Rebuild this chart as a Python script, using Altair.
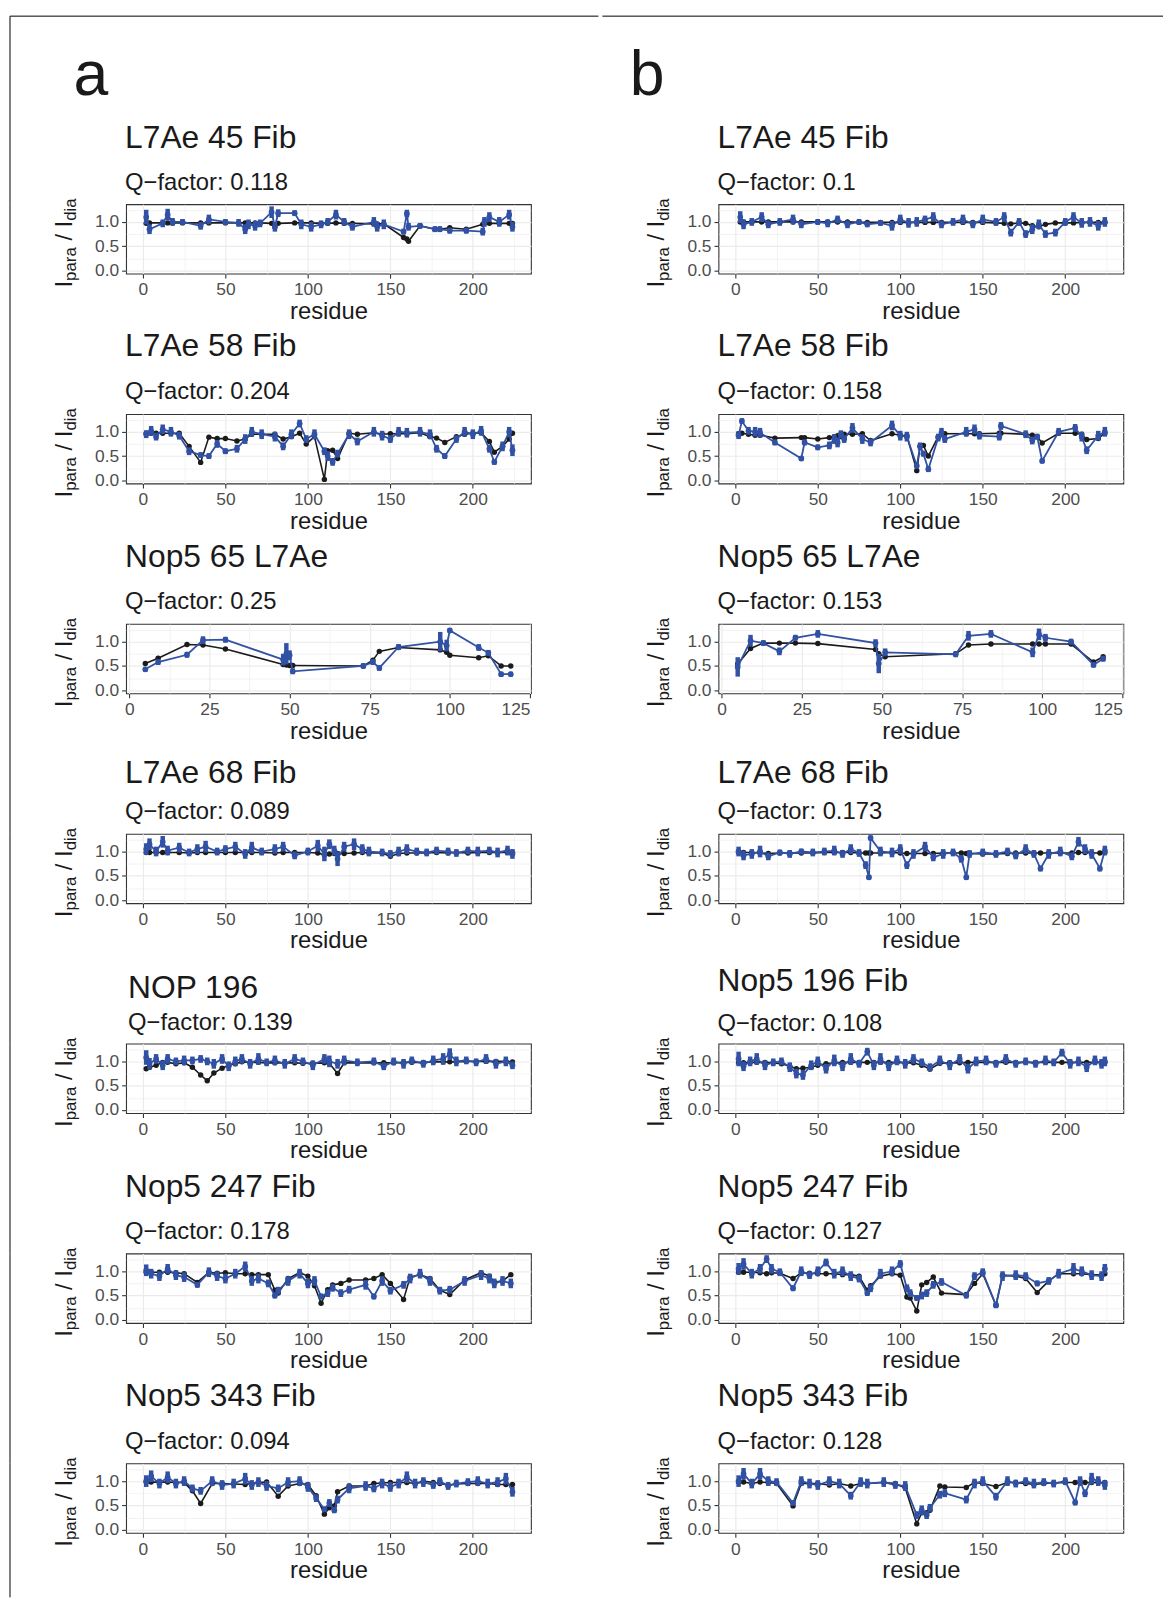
import altair as alt
import pandas as pd

BLUE = "#3151A4"
BLACK = "#1B1B1B"
FONT = "Liberation Sans"

# ---------------- data ----------------
# column a
a1_res = [2, 4, 12, 15, 18, 24, 35, 40, 50, 58, 62, 64, 68, 71, 78, 80, 82, 92, 96, 102, 108, 112, 117, 122, 127, 140, 142, 146, 158, 160, 161, 168, 177, 180, 186, 196, 206, 207, 210, 216, 222, 224]
a1_calc = [0.97, 0.98, 0.98, 0.98, 0.98, 0.98, 0.98, 0.98, 0.98, 0.98, 0.98, 0.98, 0.98, 0.98, 0.97, 0.90, 0.97, 0.98, 0.98, 0.98, 0.97, 0.97, 0.98, 0.97, 0.97, 0.96, 0.96, 0.96, 0.68, 0.65, 0.60, 0.92, 0.85, 0.85, 0.88, 0.85, 0.95, 0.97, 0.97, 0.97, 0.97, 0.97]
a1_exp = [1.10, 0.85, 0.97, 1.15, 1.00, 1.00, 0.92, 1.05, 1.00, 0.98, 0.85, 0.95, 0.92, 0.97, 1.20, 0.90, 1.18, 1.18, 0.95, 0.90, 0.95, 1.00, 1.15, 1.00, 0.90, 1.00, 0.90, 0.95, 0.80, 1.17, 0.90, 0.92, 0.85, 0.85, 0.82, 0.82, 0.80, 1.00, 1.10, 1.00, 1.15, 0.90]
a1_err = [0.15, 0.10, 0.08, 0.12, 0.08, 0.06, 0.08, 0.10, 0.06, 0.08, 0.10, 0.10, 0.10, 0.08, 0.12, 0.10, 0.08, 0.06, 0.10, 0.10, 0.08, 0.08, 0.10, 0.08, 0.08, 0.10, 0.10, 0.10, 0.06, 0.08, 0.08, 0.06, 0.06, 0.06, 0.06, 0.06, 0.08, 0.10, 0.10, 0.10, 0.10, 0.10]

a2_res = [2, 5, 8, 12, 17, 22, 28, 35, 40, 45, 50, 57, 62, 66, 72, 80, 85, 90, 95, 99, 104, 110, 112, 115, 118, 125, 130, 140, 145, 150, 155, 160, 168, 174, 178, 183, 190, 195, 200, 205, 210, 213, 218, 222, 224]
a2_calc = [0.97, 0.97, 0.97, 0.97, 0.97, 0.97, 0.70, 0.37, 0.89, 0.86, 0.86, 0.81, 0.85, 0.95, 0.95, 0.95, 0.85, 0.90, 0.97, 0.75, 0.90, 0.02, 0.61, 0.62, 0.45, 0.97, 0.95, 0.98, 0.95, 0.96, 0.96, 0.96, 0.98, 0.90, 0.87, 0.78, 0.90, 0.95, 0.97, 0.98, 0.80, 0.58, 0.70, 0.85, 0.97]
a2_exp = [0.95, 1.02, 0.90, 1.05, 1.00, 0.92, 0.60, 0.52, 0.50, 0.75, 0.60, 0.65, 0.85, 1.00, 0.95, 0.90, 0.70, 0.95, 1.17, 0.85, 0.95, 0.60, 0.50, 0.38, 0.55, 0.95, 0.80, 1.00, 0.92, 0.85, 1.00, 0.98, 1.00, 0.95, 0.65, 0.50, 0.85, 1.00, 0.95, 1.02, 0.65, 0.38, 0.70, 1.00, 0.62]
a2_err = [0.08, 0.10, 0.08, 0.10, 0.10, 0.08, 0.08, 0.06, 0.06, 0.08, 0.06, 0.08, 0.10, 0.10, 0.10, 0.10, 0.08, 0.10, 0.08, 0.08, 0.10, 0.08, 0.10, 0.08, 0.08, 0.10, 0.08, 0.10, 0.10, 0.08, 0.10, 0.10, 0.10, 0.10, 0.08, 0.06, 0.08, 0.10, 0.10, 0.10, 0.08, 0.06, 0.10, 0.10, 0.12]

a3_res = [5, 9, 18, 23, 30, 48, 49, 50, 51, 73, 76, 78, 84, 97, 99, 100, 109, 112, 116, 119]
a3_calc = [0.55, 0.66, 0.94, 0.93, 0.85, 0.53, 0.52, 0.51, 0.51, 0.50, 0.62, 0.80, 0.88, 0.83, 0.78, 0.72, 0.67, 0.71, 0.50, 0.50]
a3_exp = [0.43, 0.58, 0.73, 1.03, 1.04, 0.63, 0.75, 0.72, 0.39, 0.50, 0.58, 0.46, 0.89, 1.00, 0.92, 1.23, 0.88, 0.77, 0.33, 0.33]
a3_err = [0.05, 0.06, 0.06, 0.08, 0.06, 0.12, 0.22, 0.10, 0.06, 0.05, 0.06, 0.06, 0.06, 0.20, 0.12, 0.05, 0.07, 0.06, 0.05, 0.05]

a4_res = [2, 4, 8, 12, 15, 22, 28, 33, 38, 45, 50, 56, 62, 66, 72, 80, 85, 92, 100, 106, 110, 113, 116, 118, 122, 128, 133, 137, 145, 150, 155, 160, 166, 172, 178, 185, 190, 197, 203, 210, 215, 221, 224]
a4_calc = [0.98, 0.98, 0.98, 0.98, 0.98, 0.98, 0.97, 0.98, 0.98, 0.98, 0.98, 0.98, 0.98, 0.98, 0.98, 0.97, 0.98, 0.98, 0.98, 0.97, 0.93, 0.95, 0.96, 0.96, 0.96, 0.97, 0.98, 0.97, 0.97, 0.90, 0.96, 0.97, 0.97, 0.97, 0.98, 0.97, 0.98, 0.97, 0.98, 0.98, 0.98, 0.98, 0.98]
a4_exp = [1.05, 1.15, 1.00, 1.20, 1.02, 1.08, 0.98, 1.05, 1.10, 1.00, 1.05, 1.10, 0.95, 1.08, 1.00, 1.05, 1.10, 0.92, 1.00, 1.12, 0.95, 1.15, 1.02, 0.85, 1.10, 1.15, 1.05, 1.00, 0.98, 0.95, 1.00, 1.05, 1.00, 0.98, 1.02, 1.00, 0.97, 1.02, 1.00, 1.02, 0.98, 1.02, 0.95]
a4_err = [0.12, 0.12, 0.10, 0.12, 0.10, 0.10, 0.08, 0.10, 0.12, 0.08, 0.08, 0.10, 0.10, 0.12, 0.08, 0.10, 0.10, 0.08, 0.08, 0.12, 0.15, 0.10, 0.10, 0.15, 0.10, 0.12, 0.10, 0.10, 0.08, 0.08, 0.10, 0.10, 0.08, 0.08, 0.08, 0.08, 0.08, 0.08, 0.10, 0.08, 0.10, 0.10, 0.10]

a5_res = [2, 4, 8, 12, 15, 20, 25, 30, 35, 39, 43, 48, 52, 56, 60, 65, 70, 75, 80, 86, 92, 97, 103, 110, 113, 118, 122, 130, 140, 146, 152, 158, 163, 170, 176, 182, 186, 190, 196, 202, 208, 214, 220, 224]
a5_calc = [0.85, 0.88, 0.92, 0.98, 0.98, 0.95, 0.97, 0.88, 0.72, 0.60, 0.76, 0.86, 0.92, 0.95, 0.99, 0.98, 0.98, 0.97, 0.97, 0.97, 0.97, 0.96, 0.96, 0.97, 0.96, 0.75, 0.97, 0.97, 0.97, 0.97, 0.97, 0.98, 0.98, 0.98, 0.99, 0.99, 0.99, 0.99, 1.00, 1.00, 1.00, 1.00, 1.00, 0.99]
a5_exp = [1.08, 0.95, 1.05, 0.92, 1.05, 1.00, 1.02, 1.02, 1.05, 1.00, 0.95, 1.05, 0.90, 1.00, 1.05, 0.95, 1.05, 0.98, 1.02, 0.95, 1.05, 1.00, 0.92, 1.05, 1.00, 0.95, 1.02, 0.98, 1.00, 0.90, 1.00, 0.95, 1.02, 0.95, 1.02, 1.05, 1.15, 1.00, 1.02, 0.98, 1.05, 0.95, 1.00, 0.92]
a5_err = [0.15, 0.12, 0.10, 0.10, 0.10, 0.08, 0.10, 0.08, 0.08, 0.08, 0.10, 0.10, 0.10, 0.10, 0.10, 0.10, 0.12, 0.08, 0.10, 0.10, 0.10, 0.08, 0.10, 0.10, 0.12, 0.10, 0.10, 0.08, 0.08, 0.08, 0.08, 0.10, 0.08, 0.08, 0.10, 0.12, 0.12, 0.10, 0.08, 0.08, 0.10, 0.10, 0.10, 0.08]

a6_res = [2, 5, 10, 15, 20, 25, 33, 40, 45, 50, 56, 62, 66, 70, 76, 80, 82, 88, 95, 100, 104, 108, 112, 115, 120, 125, 135, 140, 145, 150, 158, 162, 168, 174, 180, 186, 195, 205, 210, 213, 218, 223]
a6_calc = [0.98, 0.98, 0.98, 0.98, 0.97, 0.95, 0.77, 0.98, 0.96, 0.97, 0.95, 0.95, 0.93, 0.93, 0.93, 0.61, 0.55, 0.85, 0.97, 0.90, 0.70, 0.34, 0.62, 0.72, 0.75, 0.82, 0.82, 0.85, 0.93, 0.75, 0.42, 0.88, 0.93, 0.85, 0.61, 0.52, 0.82, 0.97, 0.90, 0.78, 0.80, 0.93]
a6_exp = [1.02, 0.95, 0.90, 1.05, 0.92, 0.88, 0.72, 0.98, 0.90, 0.85, 0.95, 1.10, 0.80, 0.85, 0.75, 0.50, 0.60, 0.80, 0.95, 0.75, 0.80, 0.48, 0.55, 0.66, 0.55, 0.62, 0.72, 0.48, 0.80, 0.60, 0.72, 0.85, 0.95, 0.80, 0.60, 0.62, 0.80, 0.92, 0.85, 0.75, 0.80, 0.75]
a6_err = [0.12, 0.10, 0.10, 0.10, 0.10, 0.10, 0.06, 0.10, 0.10, 0.10, 0.10, 0.10, 0.10, 0.10, 0.08, 0.06, 0.08, 0.10, 0.10, 0.10, 0.10, 0.06, 0.08, 0.08, 0.08, 0.08, 0.10, 0.06, 0.10, 0.08, 0.08, 0.10, 0.10, 0.10, 0.08, 0.08, 0.10, 0.10, 0.10, 0.10, 0.10, 0.10]

a7_res = [2, 5, 10, 15, 20, 25, 30, 35, 42, 48, 55, 62, 66, 70, 75, 82, 88, 95, 100, 105, 110, 113, 116, 118, 125, 135, 140, 145, 150, 155, 160, 165, 170, 176, 180, 185, 190, 197, 203, 209, 215, 220, 224]
a7_calc = [0.98, 0.98, 0.98, 0.98, 0.97, 0.97, 0.80, 0.54, 0.95, 0.95, 0.94, 0.93, 0.95, 0.97, 0.98, 0.69, 0.90, 0.95, 0.93, 0.70, 0.32, 0.45, 0.49, 0.78, 0.90, 0.90, 0.95, 0.96, 0.97, 0.97, 0.97, 0.95, 1.00, 0.97, 0.95, 0.92, 0.94, 0.95, 0.95, 0.95, 0.93, 0.93, 0.93]
a7_exp = [1.00, 1.10, 0.95, 1.08, 0.95, 1.00, 0.85, 0.80, 1.00, 0.92, 0.95, 1.05, 0.92, 0.98, 0.90, 0.85, 0.98, 1.00, 0.88, 0.65, 0.42, 0.55, 0.40, 0.62, 0.85, 0.90, 0.85, 0.95, 0.88, 0.95, 1.08, 0.95, 0.98, 0.92, 1.00, 0.90, 0.95, 0.98, 1.00, 0.95, 0.98, 1.05, 0.78]
a7_err = [0.12, 0.12, 0.10, 0.12, 0.10, 0.10, 0.08, 0.08, 0.10, 0.10, 0.10, 0.12, 0.10, 0.10, 0.10, 0.08, 0.10, 0.10, 0.10, 0.08, 0.06, 0.08, 0.06, 0.08, 0.10, 0.10, 0.08, 0.10, 0.10, 0.10, 0.12, 0.10, 0.10, 0.08, 0.08, 0.08, 0.08, 0.08, 0.10, 0.10, 0.10, 0.12, 0.10]

# column b
b1_res = [3, 5, 10, 16, 20, 27, 35, 40, 50, 56, 62, 68, 75, 80, 88, 95, 100, 105, 110, 115, 120, 125, 132, 138, 144, 150, 158, 163, 167, 172, 176, 180, 184, 188, 194, 200, 205, 210, 215, 220, 224]
b1_calc = [1.00, 1.00, 1.00, 1.00, 1.00, 1.00, 1.00, 1.00, 1.00, 1.00, 1.00, 1.00, 0.99, 0.99, 0.99, 0.99, 0.99, 0.99, 0.99, 0.99, 0.99, 0.99, 0.99, 0.99, 0.99, 0.99, 0.98, 0.97, 0.96, 0.98, 0.97, 0.92, 0.90, 0.95, 0.98, 0.98, 0.98, 0.99, 0.99, 0.99, 0.99]
b1_exp = [1.10, 0.95, 1.00, 1.10, 0.95, 1.00, 1.05, 0.95, 1.00, 0.97, 1.05, 0.95, 1.00, 0.95, 0.98, 0.92, 1.05, 0.98, 1.00, 1.05, 1.10, 0.95, 1.00, 1.05, 0.95, 1.05, 1.00, 1.10, 0.78, 1.00, 0.75, 0.85, 0.95, 0.75, 0.78, 1.00, 1.10, 0.98, 1.00, 0.92, 1.00]
b1_err = [0.12, 0.10, 0.08, 0.10, 0.08, 0.08, 0.10, 0.08, 0.06, 0.08, 0.08, 0.08, 0.06, 0.06, 0.06, 0.10, 0.10, 0.10, 0.10, 0.08, 0.10, 0.08, 0.08, 0.10, 0.08, 0.10, 0.08, 0.10, 0.08, 0.08, 0.08, 0.10, 0.10, 0.08, 0.08, 0.08, 0.10, 0.10, 0.10, 0.10, 0.10]

b2_res = [2, 4, 8, 12, 15, 24, 40, 42, 50, 57, 60, 62, 64, 66, 71, 77, 82, 95, 100, 104, 110, 112, 114, 117, 123, 125, 127, 140, 145, 148, 160, 161, 176, 180, 183, 186, 196, 206, 210, 213, 220, 224]
b2_calc = [0.96, 0.97, 0.95, 0.93, 0.93, 0.87, 0.88, 0.88, 0.85, 0.88, 0.90, 0.92, 0.90, 0.95, 0.95, 0.96, 0.82, 0.96, 0.93, 0.92, 0.20, 0.70, 0.72, 0.50, 0.90, 0.95, 0.96, 0.96, 0.96, 0.96, 0.97, 0.97, 0.95, 0.93, 0.90, 0.77, 0.97, 0.97, 0.95, 0.84, 0.86, 0.97]
b2_exp = [0.93, 1.22, 1.02, 1.00, 0.98, 0.78, 0.45, 0.78, 0.68, 0.72, 0.85, 0.78, 0.95, 0.85, 1.08, 0.85, 0.78, 1.13, 0.92, 0.90, 0.30, 0.70, 0.55, 0.23, 0.88, 0.98, 0.85, 1.00, 1.05, 0.92, 0.90, 1.12, 0.95, 0.82, 0.90, 0.40, 1.00, 1.08, 0.90, 0.62, 0.92, 1.00]
b2_err = [0.08, 0.06, 0.08, 0.10, 0.10, 0.06, 0.05, 0.06, 0.06, 0.08, 0.10, 0.10, 0.08, 0.08, 0.10, 0.10, 0.08, 0.10, 0.10, 0.10, 0.06, 0.08, 0.06, 0.06, 0.08, 0.10, 0.08, 0.10, 0.10, 0.08, 0.08, 0.08, 0.08, 0.08, 0.06, 0.05, 0.08, 0.08, 0.10, 0.08, 0.10, 0.10]

b3_res = [5, 9, 13, 18, 23, 30, 48, 49, 51, 73, 77, 84, 97, 99, 101, 109, 116, 119]
b3_calc = [0.54, 0.86, 0.97, 0.97, 0.97, 0.96, 0.84, 0.75, 0.69, 0.75, 0.93, 0.95, 0.95, 0.95, 0.95, 0.95, 0.58, 0.69]
b3_exp = [0.48, 1.02, 0.97, 0.80, 1.08, 1.16, 0.97, 0.55, 0.78, 0.74, 1.12, 1.16, 0.78, 1.15, 1.08, 1.00, 0.52, 0.65]
b3_err = [0.20, 0.12, 0.06, 0.08, 0.06, 0.08, 0.08, 0.20, 0.08, 0.06, 0.10, 0.08, 0.10, 0.12, 0.08, 0.06, 0.05, 0.06]

b4_res = [2, 5, 10, 15, 20, 27, 33, 40, 47, 54, 60, 65, 70, 75, 79, 81, 82, 88, 95, 100, 104, 108, 115, 120, 126, 132, 137, 140, 142, 150, 158, 165, 170, 176, 181, 185, 190, 197, 204, 208, 212, 216, 221, 224]
b4_calc = [0.98, 0.98, 0.98, 0.97, 0.96, 0.97, 0.97, 0.97, 0.97, 0.98, 0.98, 0.98, 0.98, 0.97, 0.97, 0.97, 0.97, 0.97, 0.98, 0.97, 0.96, 0.96, 0.96, 0.96, 0.97, 0.97, 0.97, 0.96, 0.96, 0.95, 0.95, 0.96, 0.97, 0.97, 0.97, 0.97, 0.97, 0.97, 0.97, 0.98, 0.98, 0.97, 0.97, 0.98]
b4_exp = [1.00, 0.92, 0.95, 1.00, 0.90, 0.98, 0.95, 1.00, 0.98, 1.00, 1.02, 0.95, 1.05, 0.97, 0.72, 0.47, 1.28, 1.00, 0.98, 1.05, 0.72, 0.95, 1.10, 0.88, 0.95, 0.98, 0.85, 0.47, 0.95, 0.98, 0.95, 1.00, 0.92, 1.05, 0.95, 0.65, 0.95, 1.00, 0.90, 1.20, 1.05, 0.95, 0.65, 1.02]
b4_err = [0.10, 0.10, 0.10, 0.12, 0.08, 0.06, 0.08, 0.06, 0.08, 0.08, 0.10, 0.08, 0.10, 0.08, 0.08, 0.05, 0.05, 0.10, 0.10, 0.10, 0.08, 0.10, 0.10, 0.08, 0.10, 0.08, 0.08, 0.05, 0.08, 0.08, 0.08, 0.08, 0.08, 0.10, 0.08, 0.06, 0.10, 0.10, 0.08, 0.10, 0.10, 0.10, 0.06, 0.10]

b5_res = [2, 5, 9, 13, 18, 23, 28, 33, 37, 41, 46, 50, 55, 60, 65, 70, 75, 80, 84, 88, 93, 98, 103, 108, 113, 118, 124, 130, 136, 141, 146, 152, 158, 164, 170, 176, 182, 188, 193, 198, 203, 208, 213, 218, 222, 224]
b5_calc = [0.97, 0.97, 0.98, 0.98, 0.98, 0.97, 0.95, 0.90, 0.85, 0.86, 0.88, 0.92, 0.95, 0.97, 0.98, 0.98, 0.98, 0.98, 0.98, 0.98, 0.98, 0.98, 0.97, 0.97, 0.92, 0.84, 0.96, 0.97, 0.97, 0.98, 0.98, 0.98, 0.98, 0.98, 0.98, 0.98, 0.98, 0.98, 0.98, 0.98, 0.98, 0.98, 0.98, 0.98, 0.98, 0.98]
b5_exp = [1.05, 0.90, 1.00, 1.05, 0.92, 0.98, 1.00, 0.88, 0.75, 0.72, 0.92, 1.00, 0.85, 1.02, 0.90, 1.05, 0.95, 1.20, 0.92, 1.05, 0.90, 1.02, 0.95, 1.05, 0.98, 0.88, 1.02, 0.92, 1.05, 0.85, 1.00, 1.02, 0.95, 1.05, 0.95, 1.00, 0.95, 1.02, 0.98, 1.18, 0.95, 1.00, 0.88, 1.02, 0.95, 1.00]
b5_err = [0.15, 0.10, 0.10, 0.12, 0.10, 0.08, 0.08, 0.10, 0.10, 0.10, 0.10, 0.10, 0.10, 0.12, 0.10, 0.12, 0.08, 0.08, 0.10, 0.12, 0.10, 0.10, 0.10, 0.10, 0.08, 0.08, 0.10, 0.10, 0.10, 0.10, 0.10, 0.10, 0.08, 0.10, 0.08, 0.08, 0.08, 0.10, 0.08, 0.08, 0.10, 0.10, 0.10, 0.10, 0.10, 0.10]

b6_res = [2, 5, 10, 15, 19, 22, 27, 35, 40, 45, 50, 55, 60, 65, 70, 75, 80, 82, 88, 95, 100, 104, 106, 110, 113, 116, 120, 125, 140, 145, 150, 158, 162, 170, 176, 183, 190, 196, 205, 210, 216, 222, 224]
b6_calc = [0.98, 0.98, 0.98, 0.97, 0.95, 0.97, 0.96, 0.85, 0.97, 0.96, 0.95, 0.95, 0.95, 0.93, 0.93, 0.90, 0.61, 0.70, 0.90, 0.95, 0.92, 0.47, 0.45, 0.18, 0.72, 0.77, 0.88, 0.55, 0.52, 0.75, 0.95, 0.30, 0.92, 0.90, 0.85, 0.56, 0.80, 0.95, 0.95, 0.95, 0.93, 0.92, 0.95]
b6_exp = [1.05, 1.15, 0.95, 1.05, 1.25, 1.05, 0.98, 0.65, 1.00, 0.92, 1.00, 1.18, 0.95, 1.00, 0.90, 0.85, 0.55, 0.65, 0.95, 1.00, 1.15, 0.65, 0.55, 0.45, 0.50, 0.55, 0.72, 0.78, 0.50, 0.90, 0.98, 0.30, 0.90, 0.92, 0.90, 0.75, 0.80, 0.95, 1.05, 1.00, 0.92, 0.90, 1.05]
b6_err = [0.12, 0.12, 0.10, 0.10, 0.08, 0.10, 0.08, 0.06, 0.10, 0.08, 0.10, 0.08, 0.10, 0.10, 0.10, 0.08, 0.06, 0.08, 0.10, 0.10, 0.08, 0.08, 0.08, 0.06, 0.08, 0.08, 0.08, 0.08, 0.06, 0.08, 0.08, 0.06, 0.10, 0.10, 0.08, 0.06, 0.08, 0.10, 0.12, 0.10, 0.10, 0.10, 0.10]

b7_res = [2, 5, 10, 15, 20, 25, 35, 40, 45, 50, 57, 63, 70, 76, 80, 90, 97, 103, 110, 113, 116, 118, 124, 127, 140, 145, 150, 158, 165, 170, 176, 181, 187, 193, 200, 206, 209, 212, 216, 220, 224]
b7_calc = [0.98, 0.98, 0.95, 0.98, 0.97, 0.95, 0.49, 0.95, 0.95, 0.95, 0.92, 0.95, 0.90, 0.95, 0.95, 0.97, 0.95, 0.86, 0.12, 0.35, 0.35, 0.40, 0.90, 0.88, 0.87, 0.97, 0.95, 0.89, 0.97, 0.97, 0.95, 0.93, 0.95, 0.96, 0.97, 0.97, 0.97, 0.97, 0.97, 0.97, 0.97]
b7_exp = [1.00, 1.15, 0.95, 1.15, 1.00, 0.98, 0.55, 1.00, 0.95, 0.92, 1.00, 0.95, 0.70, 0.98, 0.95, 0.98, 0.92, 0.90, 0.30, 0.40, 0.30, 0.45, 0.72, 0.75, 0.62, 0.95, 1.00, 0.68, 1.00, 0.95, 1.00, 0.95, 0.98, 0.95, 1.00, 0.56, 1.00, 0.75, 1.05, 1.00, 0.92]
b7_err = [0.12, 0.12, 0.10, 0.12, 0.10, 0.08, 0.05, 0.10, 0.10, 0.10, 0.10, 0.10, 0.08, 0.10, 0.10, 0.10, 0.08, 0.10, 0.08, 0.10, 0.08, 0.08, 0.08, 0.08, 0.08, 0.10, 0.10, 0.08, 0.10, 0.08, 0.08, 0.10, 0.08, 0.08, 0.08, 0.06, 0.10, 0.08, 0.12, 0.10, 0.10]

titles_a = ["L7Ae 45 Fib", "L7Ae 58 Fib", "Nop5 65 L7Ae", "L7Ae 68 Fib", "NOP 196", "Nop5 247 Fib", "Nop5 343 Fib"]
qfac_a = ["0.118", "0.204", "0.25", "0.089", "0.139", "0.178", "0.094"]
titles_b = ["L7Ae 45 Fib", "L7Ae 58 Fib", "Nop5 65 L7Ae", "L7Ae 68 Fib", "Nop5 196 Fib", "Nop5 247 Fib", "Nop5 343 Fib"]
qfac_b = ["0.1", "0.158", "0.153", "0.173", "0.108", "0.127", "0.128"]

data_a = [(a1_res, a1_calc, a1_exp, a1_err), (a2_res, a2_calc, a2_exp, a2_err),
          (a3_res, a3_calc, a3_exp, a3_err), (a4_res, a4_calc, a4_exp, a4_err),
          (a5_res, a5_calc, a5_exp, a5_err), (a6_res, a6_calc, a6_exp, a6_err),
          (a7_res, a7_calc, a7_exp, a7_err)]
data_b = [(b1_res, b1_calc, b1_exp, b1_err), (b2_res, b2_calc, b2_exp, b2_err),
          (b3_res, b3_calc, b3_exp, b3_err), (b4_res, b4_calc, b4_exp, b4_err),
          (b5_res, b5_calc, b5_exp, b5_err), (b6_res, b6_calc, b6_exp, b6_err),
          (b7_res, b7_calc, b7_exp, b7_err)]

y_ticks = [0, 0.25, 0.5, 0.75, 1.0, 1.25]
x_ticks_long = [0, 25, 50, 75, 100, 125, 150, 175, 200, 225]
x_ticks_short = [0, 12.5, 25, 37.5, 50, 62.5, 75, 87.5, 100, 112.5, 125]

# layout (pixels)
PW, PH = 408, 70
ROW_GAP = 141.5        # gap between plot areas of consecutive rows
HEAD_H = 48            # header strip (letters a / b and the frame line)
EDGE_X = -117          # frame line, relative to the left plot edge
EDGE_Y = 0             # frame line, relative to the header top
sub_pad_a = [15.7, 17.7, 16.7, 10.7, 6.5, 15.7, 16.7]
sub_pad_b = [15.7, 17.7, 16.7, 10.7, 14.5, 15.7, 16.7]
t_off_a = [2.8, 2.8, 2.8, 2.8, 1.5, 2.8, 2.8]
t_off_b = [2.8, 2.8, 2.8, 2.8, 0.5, 2.8, 2.8]
title_dx_a = [-1, -1, -1, -1, 2, -1, -1]
title_dx_b = [-1, -1, -1, -1, -1, -1, -1]

ONE = pd.DataFrame({"k": [0]})
EDGE = "#000000"


def ytitle_layers():
    pieces = [("I", 24, -55, 84), ("para", 17, -50, 77.3), ("/", 24, -55, 36.7),
              ("I", 24, -55, 23.4), ("dia", 17, -50, 16.7)]
    out = []
    for txt, fs, px, py in pieces:
        out.append(alt.Chart(ONE).mark_text(text=txt, fontSize=fs, angle=270, align="left",
                                            baseline="alphabetic", font=FONT, color="#1A1A1A")
                   .encode(x=alt.value(px), y=alt.value(py)))
    return out


def edge_segment(y1, y2):
    return alt.Chart(ONE).mark_rule(color=EDGE, strokeWidth=1).encode(
        x=alt.value(EDGE_X), y=alt.value(y1), y2=alt.value(y2))


def panel(title, q, d, short, sub_pad, t_off, tdx, extra=None):
    res, calc, exp, err = d
    df = pd.DataFrame({"residue": res, "calc": calc, "exp": exp,
                       "lo": [e - s for e, s in zip(exp, err)],
                       "hi": [e + s for e, s in zip(exp, err)]})
    if short:
        dom = [-1.0, 125.3]
        vals = x_ticks_short
        minor_test = "datum.value % 25 != 0"
    else:
        dom = [-10.2, 235.2]
        vals = x_ticks_long
        minor_test = "datum.value % 50 != 0"
    xaxis = alt.Axis(values=vals, title="residue",
                     labelExpr="(" + minor_test + ") ? '' : datum.label",
                     tickOpacity={"condition": {"test": minor_test, "value": 0}, "value": 1},
                     gridWidth={"condition": {"test": minor_test, "value": 0.6}, "value": 1.2})
    ymin = "abs(datum.value*2 - round(datum.value*2)) > 0.01"
    yaxis = alt.Axis(values=y_ticks, title=None,
                     labelExpr="(" + ymin + ") ? '' : format(datum.value, '.1f')",
                     tickOpacity={"condition": {"test": ymin, "value": 0}, "value": 1},
                     gridWidth={"condition": {"test": ymin, "value": 0.6}, "value": 1.2})
    X = alt.X("residue:Q", scale=alt.Scale(domain=dom, nice=False, zero=False), axis=xaxis)
    ysc = alt.Scale(domain=[-0.065, 1.365], nice=False, zero=False)

    base = alt.Chart(df)
    bline = base.mark_line(color=BLACK, strokeWidth=1.6).encode(x=X, y=alt.Y("calc:Q", scale=ysc, axis=yaxis))
    bpts = base.mark_circle(color=BLACK, size=30, opacity=1).encode(x=X, y=alt.Y("calc:Q", scale=ysc, axis=yaxis))
    ebar = base.mark_rule(color=BLUE, strokeWidth=4.5).encode(x=X, y=alt.Y("lo:Q", scale=ysc, axis=yaxis), y2="hi:Q")
    eline = base.mark_line(color=BLUE, strokeWidth=1.8).encode(x=X, y=alt.Y("exp:Q", scale=ysc, axis=yaxis))
    epts = base.mark_circle(color=BLUE, size=34, opacity=1).encode(x=X, y=alt.Y("exp:Q", scale=ysc, axis=yaxis))

    layers = [bline, bpts, ebar, eline, epts] + ytitle_layers() + (extra or [])
    return alt.layer(*layers).properties(
        width=PW, height=PH,
        title=alt.TitleParams(text=title, subtitle="Q\u2212factor: " + q, anchor="start", frame="group",
                              font=FONT, fontSize=32, fontWeight="normal", color="#1A1A1A",
                              subtitleFont=FONT, subtitleFontSize=24, subtitleColor="#1A1A1A",
                              subtitlePadding=sub_pad, offset=t_off, dx=tdx))


def header(txt, lx, x1, x2, with_edge):
    layers = [
        alt.Chart(ONE).mark_rule(color=EDGE, strokeWidth=1).encode(
            x=alt.value(x1), x2=alt.value(x2), y=alt.value(EDGE_Y)),
        alt.Chart(ONE).mark_text(text=txt, fontSize=63, font=FONT, align="left",
                                 baseline="alphabetic", color="#1A1A1A").encode(
            x=alt.value(lx), y=alt.value(79.5)),
    ]
    if with_edge:
        layers.append(edge_segment(EDGE_Y, HEAD_H + ROW_GAP))
    return alt.layer(*layers).properties(width=PW, height=HEAD_H,
                                         view={"stroke": "transparent"})


panels_a = [header("a", -53, EDGE_X, 476, True)]
for i, (t, q, d) in enumerate(zip(titles_a, qfac_a, data_a)):
    seg = edge_segment(0, PH + ROW_GAP if i < 6 else 135)
    panels_a.append(panel(t, q, d, i == 2, sub_pad_a[i], t_off_a[i], title_dx_a[i], [seg]))
panels_b = [header("b", -89.5, -117, 448, False)]
for i, (t, q, d) in enumerate(zip(titles_b, qfac_b, data_b)):
    panels_b.append(panel(t, q, d, i == 2, sub_pad_b[i], t_off_b[i], title_dx_b[i]))

col_a = alt.vconcat(*panels_a, spacing=ROW_GAP, bounds="flush")
col_b = alt.vconcat(*panels_b, spacing=ROW_GAP, bounds="flush")

chart = alt.hconcat(col_a, col_b, spacing=0).properties(
    padding={"left": 0, "top": 0, "right": 0, "bottom": 0}
).configure_view(
    stroke="#333333", strokeWidth=1.1
).configure_axis(
    domain=False, gridColor="#EBEBEB", tickColor="#333333", tickSize=4.5, tickWidth=1.1,
    labelColor="#4D4D4D", labelFont=FONT, labelFontSize=17.5, labelPadding=3,
    titleFont=FONT, titleFontSize=24, titleColor="#1A1A1A", titleFontWeight="normal", titlePadding=1
)

chart.save("out.html", embed_options={"renderer": "svg", "actions": False})
